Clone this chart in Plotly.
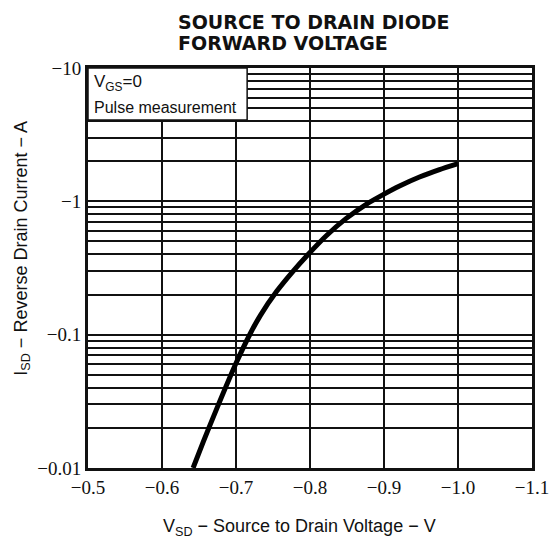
import plotly.graph_objects as go

# ---- data ----
vsd = [-0.642, -0.656, -0.674, -0.700, -0.719, -0.733, -0.755, -0.777, -0.798, -0.822,
       -0.849, -0.876, -0.897, -0.921, -0.948, -0.975, -1.000]
isd_mag = [0.0100, 0.01585, 0.0279, 0.0610, 0.1012, 0.1396, 0.2113, 0.2985, 0.4027, 0.5521,
           0.7447, 0.9506, 1.109, 1.303, 1.521, 1.730, 1.919]  # |I_SD| in A

x_ticks = [-0.5, -0.6, -0.7, -0.8, -0.9, -1.0, -1.1]
x_tick_labels = ["\u22120.5", "\u22120.6", "\u22120.7", "\u22120.8", "\u22120.9", "\u22121.0", "\u22121.1"]
y_decades = [0.01, 0.1, 1, 10]
y_decade_labels = ["\u22120.01", "\u22120.1", "\u22121", "\u221210"]
multipliers = [1, 2, 3, 4, 5, 6, 7, 8, 9]

# log gridlines at every 1..9 multiple, labels only at decades
y_tickvals, y_ticktext = [], []
for d, lab in zip(y_decades, y_decade_labels):
    for m in multipliers:
        v = d * m
        if v > 10.0001:
            continue
        y_tickvals.append(v)
        y_ticktext.append(lab if m == 1 else "")

fig = go.Figure()
fig.add_trace(go.Scatter(
    x=vsd, y=isd_mag, mode="lines",
    line=dict(color="black", width=5, shape="spline", smoothing=0.6),
    hoverinfo="skip", showlegend=False,
))

serif = "Liberation Serif"
sans = "Liberation Sans"
L, T, W, H = 87.5, 68, 445, 400


def px(x):
    return (x - L) / W


def py(y):
    return (T + H - y) / H


fig.update_layout(
    width=550, height=543,
    margin=dict(l=L, r=550 - L - W, t=T, b=543 - T - H, autoexpand=False),
    paper_bgcolor="white", plot_bgcolor="white",
    showlegend=False,
    xaxis=dict(
        range=[-0.5, -1.1], tickvals=x_ticks, ticktext=x_tick_labels,
        showgrid=True, gridcolor="#111", gridwidth=2,
        zeroline=False, showline=True, linecolor="#111", linewidth=3, mirror=True,
        ticks="", ticklen=0, automargin=False,
        tickfont=dict(family=serif, size=19, color="#111"),
    ),
    yaxis=dict(
        type="log", range=[-2, 1], tickvals=y_tickvals, ticktext=y_ticktext,
        showgrid=True, gridcolor="#111", gridwidth=1.6,
        zeroline=False, showline=True, linecolor="#111", linewidth=3, mirror=True,
        ticks="", ticklen=0, automargin=False,
        tickfont=dict(family=serif, size=19, color="#111"),
    ),
    shapes=[dict(
        type="rect", xref="paper", yref="paper", x0=0, x1=px(247), y0=py(120), y1=1,
        fillcolor="white", line=dict(color="#111", width=1.5), layer="above",
    )],
    annotations=[
        dict(text="<b>SOURCE TO DRAIN DIODE</b>", xref="paper", yref="paper", x=px(176), y=py(22),
             xanchor="left", yanchor="middle", showarrow=False,
             font=dict(family="DejaVu Sans", size=19, color="#111")),
        dict(text="<b>FORWARD VOLTAGE</b>", xref="paper", yref="paper", x=px(176), y=py(43),
             xanchor="left", yanchor="middle", showarrow=False,
             font=dict(family="DejaVu Sans", size=19, color="#111")),
        dict(text="V<sub>GS</sub>=0", xref="paper", yref="paper", x=px(92), y=py(83),
             xanchor="left", yanchor="middle", showarrow=False,
             font=dict(family=sans, size=17, color="#111")),
        dict(text="Pulse measurement", xref="paper", yref="paper", x=px(92), y=py(107),
             xanchor="left", yanchor="middle", showarrow=False,
             font=dict(family=sans, size=16, color="#111")),
        dict(text="V<sub>SD</sub> \u2212 Source to Drain Voltage \u2212 V", xref="paper", yref="paper",
             x=px(299), y=py(527), xanchor="center", yanchor="middle", showarrow=False,
             font=dict(family=sans, size=18, color="#111")),
        dict(text="I<sub>SD</sub> \u2212 Reverse Drain Current \u2212 A", xref="paper", yref="paper",
             x=px(22), y=py(248), xanchor="center", yanchor="middle", showarrow=False,
             textangle=-90, font=dict(family=sans, size=18, color="#111")),
    ],
)

fig.write_html(
    "out.html",
    config={"displayModeBar": False},
    post_script="document.body.style.margin='0';document.body.style.padding='0';",
)
